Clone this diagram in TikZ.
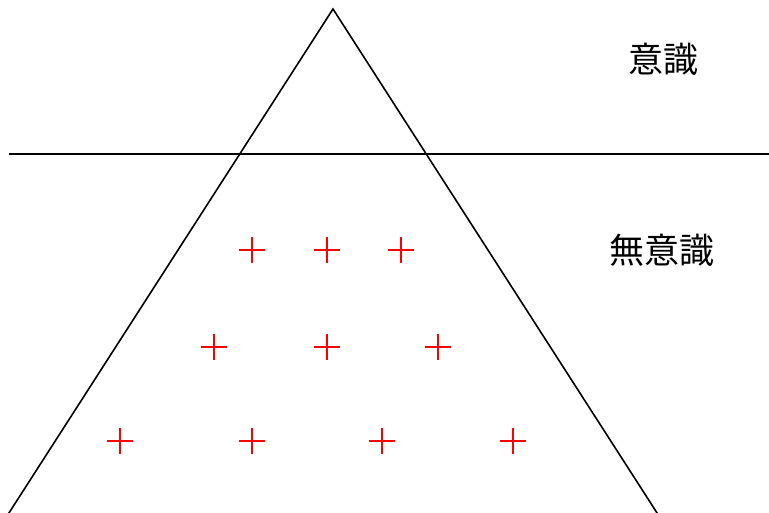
\documentclass[tikz,border=0pt]{standalone}
\usepackage{fontspec}
\newfontfamily\cjk{Noto Sans CJK JP}
\begin{document}
\begin{tikzpicture}[x=1pt,y=-1pt,
  edge/.style={draw=black,line width=1.6pt},
  pluss/.style={draw=red,line width=1.8pt},
  lbl/.style={font=\cjk\fontsize{35}{40}\selectfont,inner sep=0pt}]
\useasboundingbox (0,0) rectangle (769,513);
\coordinate (apex) at (333,9);
\coordinate (bl) at (7,516);
\coordinate (br) at (659,516);
\coordinate (hl) at (9,154);
\coordinate (hr) at (769,154);
\draw[edge] (bl) -- (apex) -- (br);
\draw[edge] (hl) -- (hr);
\node[lbl] (conscious) at (663,59) {意識};
\node[lbl] (unconscious) at (662,250) {無意識};
\foreach \x/\y in {252/250,327/250,401/250,214/347,327/347,438/347,120/441,252/441,382/441,513/441}{
  \draw[pluss] (\x-13,\y) -- (\x+13,\y) (\x,\y-13) -- (\x,\y+13);
}
\end{tikzpicture}
\end{document}
